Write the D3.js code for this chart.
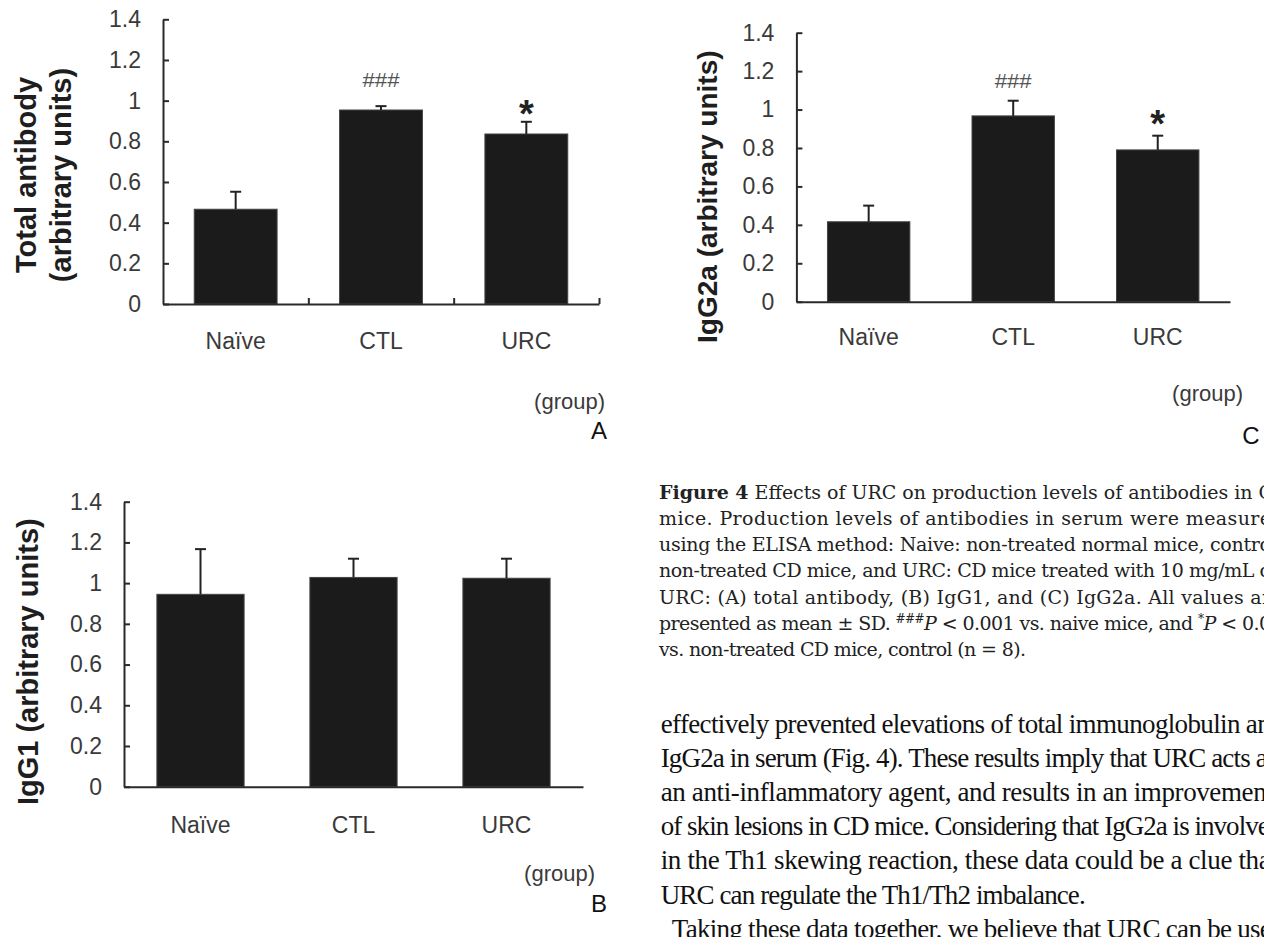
<!DOCTYPE html>
<html>
<head>
<meta charset="utf-8">
<script src="https://cdn.jsdelivr.net/npm/d3@7"></script>
<style>
  body { margin: 0; background: #fff; }
  svg { display: block; }
</style>
</head>
<body>
<svg width="1264" height="937"></svg>
<script>
// groups and tick values shared by the three panels
const groups = ['Naïve', 'CTL', 'URC'];
const yTickValues = [0, 0.2, 0.4, 0.6, 0.8, 1, 1.2, 1.4];

// (A) total antibody
const totalMean = [0.466, 0.954, 0.836];
const totalSD = [0.086, 0.019, 0.06];
const totalMarks = ['', '###', '*'];

// (B) IgG1
const igg1Mean = [0.945, 1.028, 1.024];
const igg1SD = [0.222, 0.092, 0.096];
const igg1Marks = ['', '', ''];

// (C) IgG2a
const igg2aMean = [0.416, 0.967, 0.79];
const igg2aSD = [0.084, 0.079, 0.074];
const igg2aMarks = ['', '###', '*'];

// figure caption and the running text beside it
const captionLines = [
  [{t: 'Figure 4', b: true}, {t: ' Effects of URC on production levels of antibodies in C'}],
  [{t: 'mice. Production levels of antibodies in serum were measure'}],
  [{t: 'using the ELISA method: Naive: non-treated normal mice, contro'}],
  [{t: 'non-treated CD mice, and URC: CD mice treated with 10 mg/mL o'}],
  [{t: 'URC: (A) total antibody, (B) IgG1, and (C) IgG2a. All values ar'}],
  [{t: 'presented as mean ± SD. '}, {t: '###', sup: true}, {t: 'P', i: true},
   {t: ' < 0.001 vs. naive mice, and '}, {t: '*', sup: true}, {t: 'P', i: true}, {t: ' < 0.0'}],
  [{t: 'vs. non-treated CD mice, control (n = 8).'}],
];
const bodyLines = [
  'effectively prevented elevations of total immunoglobulin an',
  'IgG2a in serum (Fig. 4). These results imply that URC acts a',
  'an anti-inflammatory agent, and results in an improvemen',
  'of skin lesions in CD mice. Considering that IgG2a is involve',
  'in the Th1 skewing reaction, these data could be a clue tha',
  'URC can regulate the Th1/Th2 imbalance.',
  'Taking these data together, we believe that URC can be use',
];

const panels = [
  {
    letter: 'A', mean: totalMean, sd: totalSD, marks: totalMarks,
    title: ['Total antibody', '(arbitrary units)'], titleX: [25.7, 61.3], titleY: 175, titleSize: 29,
    left: 163, right: 599, top: 19.3, bottom: 304, boundaryTicks: true, catPad: 29,
    group: [605, 409], letterPos: [599, 438.5], hashGap: 26, starGap: 16,
  },
  {
    letter: 'B', mean: igg1Mean, sd: igg1SD, marks: igg1Marks,
    title: ['IgG1 (arbitrary units)'], titleX: [27.7], titleY: 661.7, titleSize: 29,
    left: 124, right: 583, top: 501.7, bottom: 786.7, boundaryTicks: false, catPad: 30,
    group: [595, 881], letterPos: [599, 911.5], hashGap: 22, starGap: 18,
  },
  {
    letter: 'C', mean: igg2aMean, sd: igg2aSD, marks: igg2aMarks,
    title: ['IgG2a (arbitrary units)'], titleX: [707.6], titleY: 196.7, titleSize: 28,
    left: 796.4, right: 1230, top: 32.7, bottom: 301.7, boundaryTicks: false, catPad: 27,
    group: [1243, 401], letterPos: [1251, 443.5], hashGap: 19.5, starGap: 20,
  },
];

const svg = d3.select('svg');
const sans = 'Liberation Sans, Arial, sans-serif';
const axisColor = '#2a2a2a';
const textColor = '#3a3a3a';

panels.forEach((p) => {
  const g = svg.append('g');
  const data = groups.map((name, i) => ({name, mean: p.mean[i], sd: p.sd[i], mark: p.marks[i]}));

  const x = d3.scaleBand().domain(groups).range([p.left, p.right]).paddingInner(0.43).paddingOuter(0.215);
  const y = d3.scaleLinear().domain([0, 1.4]).range([p.bottom, p.top]);
  const slots = d3.scaleLinear().domain([0, 3]).range([p.left, p.right]);
  const cx = (d) => x(d.name) + x.bandwidth() / 2;

  // bars
  g.selectAll('rect.bar')
    .data(data)
    .join('rect')
    .attr('class', 'bar')
    .attr('x', (d) => x(d.name))
    .attr('width', x.bandwidth())
    .attr('y', (d) => y(d.mean))
    .attr('height', (d) => y(0) - y(d.mean))
    .attr('fill', '#1b1b1b')
    .attr('stroke', '#444')
    .attr('stroke-width', 1);

  // upper error bars
  const err = g.selectAll('g.err').data(data).join('g').attr('class', 'err')
    .attr('stroke', '#222').attr('stroke-width', 2);
  err.append('line')
    .attr('x1', cx).attr('x2', cx)
    .attr('y1', (d) => y(d.mean))
    .attr('y2', (d) => y(d.mean + d.sd));
  err.append('line')
    .attr('x1', (d) => cx(d) - 5.5)
    .attr('x2', (d) => cx(d) + 5.5)
    .attr('y1', (d) => y(d.mean + d.sd))
    .attr('y2', (d) => y(d.mean + d.sd));

  // significance marks
  const marks = data.filter((d) => d.mark);
  g.selectAll('text.hash')
    .data(marks.filter((d) => d.mark !== '*'))
    .join('text')
    .attr('class', 'hash')
    .attr('x', cx)
    .attr('y', (d) => y(d.mean + d.sd) - p.hashGap + 7)
    .attr('text-anchor', 'middle')
    .attr('font-family', sans)
    .attr('font-size', 20)
    .attr('fill', '#555')
    .attr('textLength', 37)
    .attr('lengthAdjust', 'spacingAndGlyphs')
    .text((d) => d.mark);
  g.selectAll('text.star')
    .data(marks.filter((d) => d.mark === '*'))
    .join('text')
    .attr('class', 'star')
    .attr('x', cx)
    .attr('y', (d) => y(d.mean + d.sd) - p.starGap + 21)
    .attr('text-anchor', 'middle')
    .attr('font-family', sans)
    .attr('font-size', 38)
    .attr('font-weight', 'bold')
    .attr('fill', '#222')
    .text((d) => d.mark);

  // y axis, ticks pointing inward
  const yAxis = g.append('g')
    .attr('transform', `translate(${p.left},0)`)
    .call(d3.axisLeft(y).tickValues(yTickValues).tickFormat((d) => String(+d.toFixed(1)))
      .tickSizeInner(-6).tickSizeOuter(0).tickPadding(22));
  yAxis.selectAll('path, line').attr('stroke', axisColor).attr('stroke-width', 2);
  yAxis.selectAll('text').attr('font-family', sans).attr('font-size', 23).attr('fill', textColor);

  // x axis line (with slot ticks in panel A)
  const xLine = g.append('g')
    .attr('transform', `translate(0,${p.bottom})`)
    .call(d3.axisBottom(slots).tickValues(p.boundaryTicks ? [1, 2, 3] : []).tickFormat('')
      .tickSizeInner(-6).tickSizeOuter(0));
  xLine.selectAll('path, line').attr('stroke', axisColor).attr('stroke-width', 2);

  // category labels
  const xAxis = g.append('g')
    .attr('transform', `translate(0,${p.bottom})`)
    .call(d3.axisBottom(x).tickSize(0).tickPadding(p.catPad));
  xAxis.select('.domain').remove();
  xAxis.selectAll('text').attr('font-family', sans).attr('font-size', 23).attr('fill', textColor);

  // y title
  p.title.forEach((line, i) => {
    g.append('text')
      .attr('transform', `translate(${p.titleX[i]},${p.titleY}) rotate(-90)`)
      .attr('text-anchor', 'middle')
      .attr('dominant-baseline', 'central')
      .attr('font-family', sans)
      .attr('font-weight', 'bold')
      .attr('font-size', p.titleSize)
      .attr('fill', '#1e1e1e')
      .text(line);
  });

  g.append('text')
    .attr('x', p.group[0]).attr('y', p.group[1])
    .attr('text-anchor', 'end')
    .attr('font-family', sans).attr('font-size', 22).attr('fill', textColor)
    .text('(group)');

  g.append('text')
    .attr('x', p.letterPos[0]).attr('y', p.letterPos[1])
    .attr('text-anchor', 'middle')
    .attr('font-family', sans).attr('font-size', 24).attr('fill', '#111')
    .text(p.letter);
});

// caption
const captionWidths = [614, 612, 612, 612, 612, 612, 367];
captionLines.forEach((segs, i) => {
  const t = svg.append('text')
    .attr('x', 659)
    .attr('y', 498.5 + i * 26.3)
    .attr('font-family', 'DejaVu Serif, serif')
    .attr('font-size', 19)
    .attr('fill', '#222')
    .attr('textLength', captionWidths[i])
    .attr('lengthAdjust', 'spacing');
  let lift = 0;
  segs.forEach((s) => {
    const shift = s.sup ? -7 : 0;
    t.append('tspan')
      .attr('font-weight', s.b ? 'bold' : null)
      .attr('font-style', s.i ? 'italic' : null)
      .attr('font-size', s.sup ? 12 : null)
      .attr('dy', shift - lift || null)
      .text(s.t);
    lift = shift;
  });
});

// running text
const bodyWidths = [610, 607, 606, 609, 610, 425, 600];
const bodyX = [660.7, 660.7, 660.7, 660.7, 660.7, 660.7, 671.8];
bodyLines.forEach((line, i) => {
  svg.append('text')
    .attr('x', bodyX[i])
    .attr('y', 732.5 + i * 34.2)
    .attr('font-family', 'Liberation Serif, Times New Roman, serif')
    .attr('font-size', 27)
    .attr('fill', '#111')
    .attr('textLength', bodyWidths[i])
    .attr('lengthAdjust', 'spacing')
    .text(line);
});
</script>
</body>
</html>
